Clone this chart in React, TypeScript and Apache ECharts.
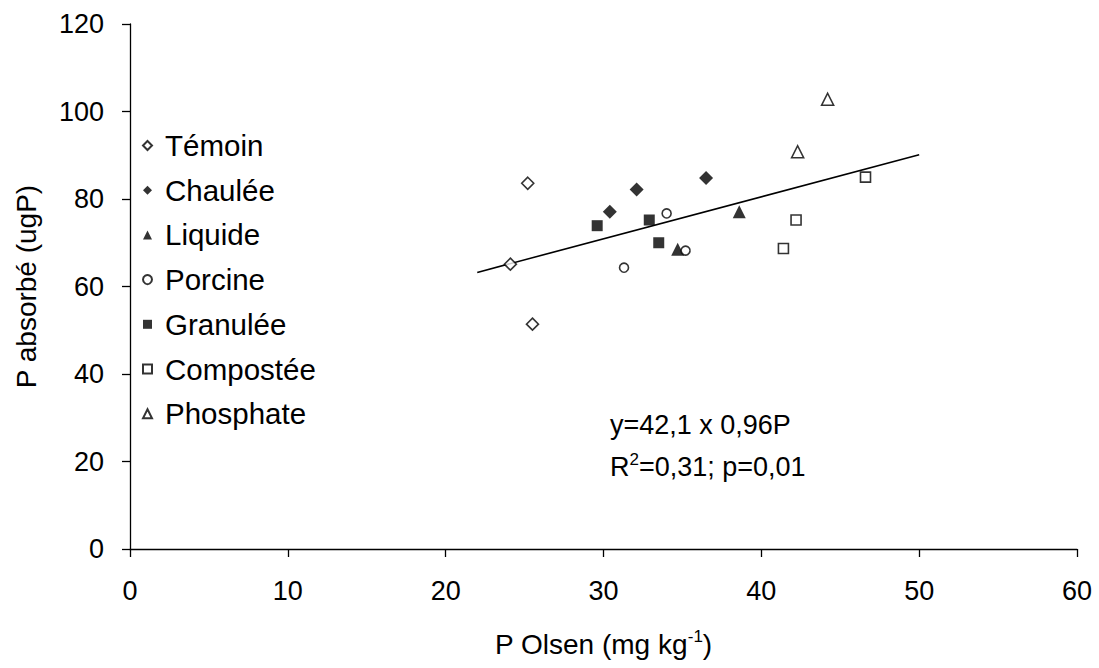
import React, { useEffect, useRef } from "react";
import * as echarts from "echarts";

const seriesNames = ["Témoin", "Chaulée", "Liquide", "Porcine", "Granulée", "Compostée", "Phosphate"];

const temoin = [[25.2, 83.6], [24.1, 65.1], [25.5, 51.4]];
const chaulee = [[30.4, 77.1], [32.1, 82.2], [36.5, 84.8]];
const liquide = [[38.6, 77.1], [34.7, 68.5]];
const porcine = [[34.0, 76.7], [35.2, 68.2], [31.3, 64.3]];
const granulee = [[29.6, 73.9], [32.9, 75.2], [33.5, 70.0]];
const compostee = [[46.6, 85.0], [42.2, 75.2], [41.4, 68.7]];
const phosphate = [[44.2, 102.8], [42.3, 90.8]];

const trendX = [22, 50];
const trendIntercept = 42.1;
const trendSlope = 0.96;

const xTicks = { min: 0, max: 60, interval: 10 };
const yTicks = { min: 0, max: 120, interval: 20 };

const FONT = "'Liberation Sans', Arial, Helvetica, sans-serif";

export default function App() {
  const ref = useRef<HTMLDivElement>(null);
  useEffect(() => {
    if (!ref.current) return;
    const chart = echarts.init(ref.current, undefined, { renderer: "svg" });
    const open = { color: "#ffffff", borderColor: "#000000", borderWidth: 1.6 };
    const filled = { color: "#000000", borderColor: "#000000", borderWidth: 0 };
    const defs = [
      { data: temoin, symbol: "diamond", size: 12, style: open },
      { data: chaulee, symbol: "diamond", size: 14, style: filled },
      { data: liquide, symbol: "triangle", size: 13, style: filled },
      { data: porcine, symbol: "circle", size: 9, style: open },
      { data: granulee, symbol: "rect", size: 11, style: filled },
      { data: compostee, symbol: "rect", size: 10, style: open },
      { data: phosphate, symbol: "triangle", size: 12, style: open },
    ];
    const scatter = defs.map((d, i) => ({
      name: seriesNames[i],
      type: "scatter",
      data: d.data,
      symbol: d.symbol,
      symbolSize: d.size,
      itemStyle: d.style,
      z: 3,
    }));
    const trendData = trendX.map((x) => [x, +(trendIntercept + trendSlope * x).toFixed(2)]);
    chart.setOption({
      animation: false,
      textStyle: { fontFamily: FONT, color: "#000" },
      grid: { left: 130, right: 22, top: 24, bottom: 119 },
      legend: {
        orient: "vertical",
        left: 137,
        top: 125,
        itemWidth: 9,
        itemHeight: 9,
        itemGap: 13.7,
        data: seriesNames,
        textStyle: { fontSize: 29.5, fontFamily: FONT, color: "#000", lineHeight: 31, padding: [0, 0, 0, 8] },
      },
      xAxis: {
        type: "value",
        min: xTicks.min,
        max: xTicks.max,
        interval: xTicks.interval,
        name: "P Olsen (mg kg{sup|-1})",
        nameLocation: "middle",
        nameGap: 79,
        nameTextStyle: {
          fontSize: 28,
          fontFamily: FONT,
          color: "#000",
          rich: { sup: { fontSize: 17, fontFamily: FONT, color: "#000", padding: [0, 0, 16, 0] } },
        },
        axisLine: { lineStyle: { color: "#000", width: 1.3 } },
        axisTick: { show: true, length: 8, inside: false, lineStyle: { color: "#000", width: 1.3 } },
        axisLabel: { fontSize: 27, fontFamily: FONT, color: "#000", margin: 28 },
        splitLine: { show: false },
      },
      yAxis: {
        type: "value",
        min: yTicks.min,
        max: yTicks.max,
        interval: yTicks.interval,
        name: "P absorbé (ugP)",
        nameLocation: "middle",
        nameGap: 90,
        nameTextStyle: { fontSize: 28, fontFamily: FONT, color: "#000" },
        axisLine: { show: true, lineStyle: { color: "#000", width: 1.3 } },
        axisTick: { show: true, length: 8, inside: false, lineStyle: { color: "#000", width: 1.3 } },
        axisLabel: { fontSize: 27, fontFamily: FONT, color: "#000", margin: 26 },
        splitLine: { show: false },
      },
      graphic: [
        {
          type: "text",
          x: 610,
          y: 425,
          style: {
            text: "y=42,1 x 0,96P",
            fontSize: 27,
            fontFamily: FONT,
            fill: "#000",
            verticalAlign: "middle",
          },
        },
        {
          type: "text",
          x: 610,
          y: 467,
          style: {
            text: "R{sup|2}=0,31; p=0,01",
            fontSize: 27,
            fontFamily: FONT,
            fill: "#000",
            verticalAlign: "middle",
            rich: { sup: { fontSize: 17, fontFamily: FONT, fill: "#000", padding: [0, 0, 16, 0] } },
          },
        },
      ],
      series: [
        ...scatter,
        {
          name: "trend",
          type: "line",
          data: trendData,
          symbol: "none",
          lineStyle: { color: "#000", width: 1.6 },
          z: 2,
          silent: true,
        },
      ],
    });
    return () => chart.dispose();
  }, []);
  return <div ref={ref} style={{ width: 1099, height: 668, position: "absolute", left: 0, top: 0 }} />;
}
